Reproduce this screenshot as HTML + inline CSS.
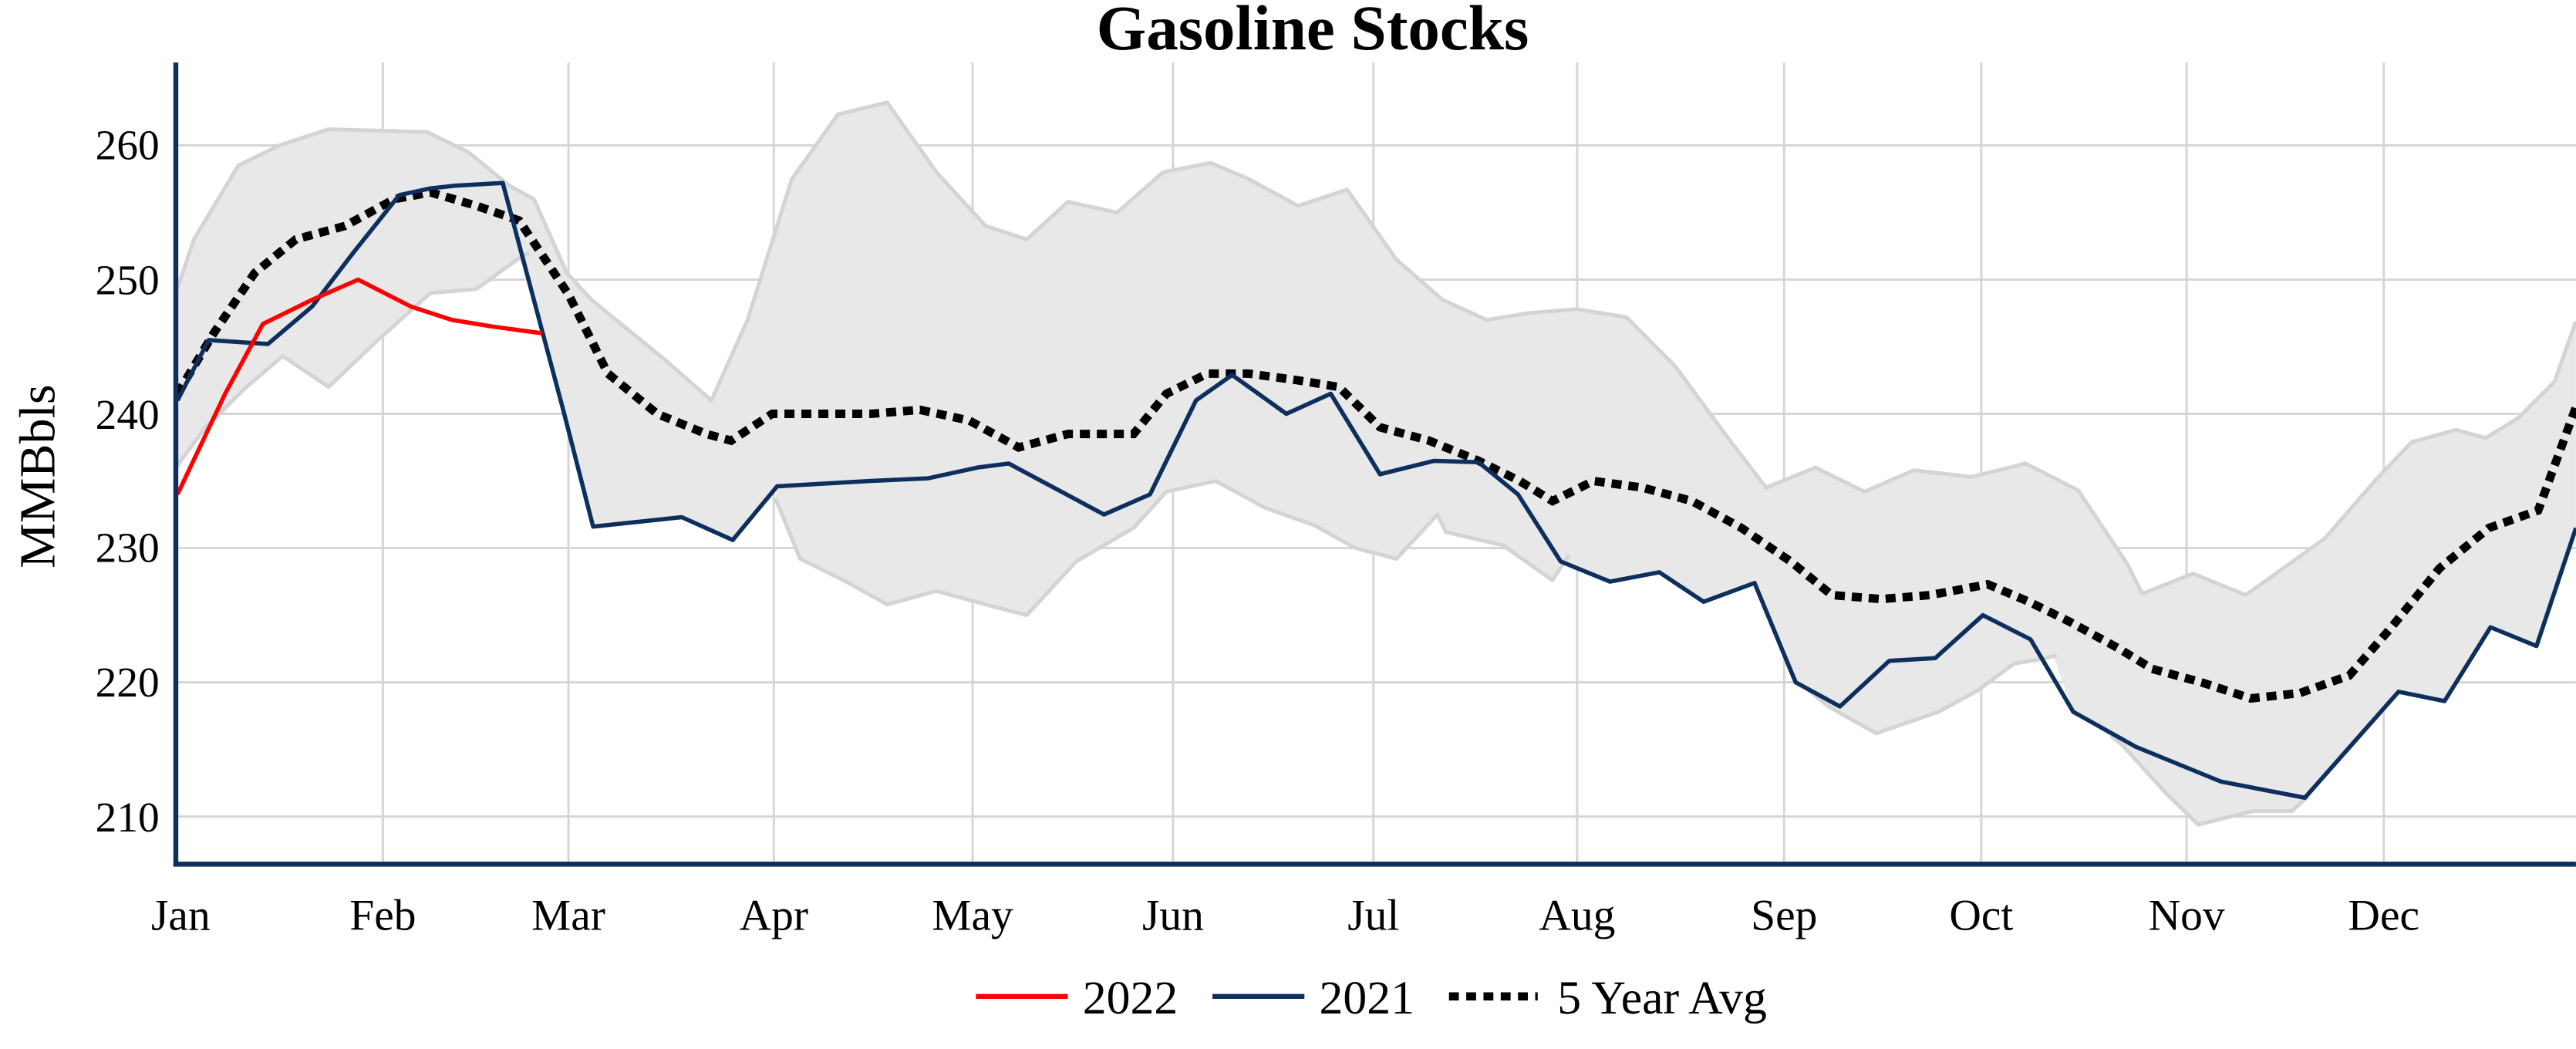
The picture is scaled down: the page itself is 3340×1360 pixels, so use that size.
<!DOCTYPE html>
<html><head><meta charset="utf-8"><style>
html,body{margin:0;padding:0;background:#fff;}
svg{display:block;}
text{font-family:"Liberation Serif",serif;fill:#000;}
</style></head><body>
<svg width="3340" height="1360" viewBox="0 0 1568 638.5" xmlns="http://www.w3.org/2000/svg">
<rect width="1568" height="638.5" fill="#fff"/>
<text x="799" y="30" font-size="39" font-weight="bold" text-anchor="middle">Gasoline Stocks</text>
<g stroke="#d6d6d6" stroke-width="1.4">
<line x1="107" x2="1568" y1="88.5" y2="88.5"/>
<line x1="107" x2="1568" y1="170.2" y2="170.2"/>
<line x1="107" x2="1568" y1="251.9" y2="251.9"/>
<line x1="107" x2="1568" y1="333.6" y2="333.6"/>
<line x1="107" x2="1568" y1="415.3" y2="415.3"/>
<line x1="107" x2="1568" y1="497" y2="497"/>
<line y1="38" y2="526" x1="233" x2="233"/>
<line y1="38" y2="526" x1="346" x2="346"/>
<line y1="38" y2="526" x1="471" x2="471"/>
<line y1="38" y2="526" x1="592" x2="592"/>
<line y1="38" y2="526" x1="714" x2="714"/>
<line y1="38" y2="526" x1="836" x2="836"/>
<line y1="38" y2="526" x1="960" x2="960"/>
<line y1="38" y2="526" x1="1086" x2="1086"/>
<line y1="38" y2="526" x1="1206" x2="1206"/>
<line y1="38" y2="526" x1="1331" x2="1331"/>
<line y1="38" y2="526" x1="1451" x2="1451"/>
</g>
<g transform="translate(0,497) scale(1,-8.17) translate(0,-210)">
<polygon fill="#e8e8e8" stroke="none" points="107,249 118,253 145,258.5 170,260 200,261.2 260,261 285,259.5 310,257 325,256 345,250.5 360,248.5 405,244 433,241 455,247 482,257.5 510,262.3 540,263.2 570,258 600,254 625,253 650,255.8 680,255 708,258 737,258.7 760,257.5 790,255.5 820,256.7 850,251.5 878,248.5 905,247 930,247.5 960,247.8 990,247.2 1020,243.5 1050,238.5 1075,234.5 1105,236 1135,234.2 1165,235.8 1200,235.3 1233,236.3 1265,234.3 1295,228.8 1304,226.6 1335,228.1 1367,226.5 1415,230.7 1447,235.2 1468,237.9 1495,238.8 1513,238.2 1533,239.7 1555,242.4 1568,246.9 1568,231.5 1544,222.7 1516,224.1 1488,218.6 1460,219.3 1403,211.4 1395,210.4 1371,210.4 1338,209.4 1318,211.8 1292,215.3 1262,217.8 1250,221.9 1241,221.7 1226,221.4 1204,219.4 1180,217.8 1142,216.2 1113,218.2 1093,220 1068,227.4 1037,226 1010,228.2 980,227.5 950,229 945,227.6 915,230.2 880,231.2 875,232.5 850,229.2 825,230 800,231.7 770,233 740,235 710,234.2 690,231.5 655,229 625,225 600,225.8 570,226.8 540,225.8 515,227.5 487,229.2 472,233.7 473,234.6 446,230.6 415,232.3 361,231.6 343,240.2 320,250.7 316,251.6 290,249.3 262,249 230,245.5 200,242 172,244.3 150,242 125,239 107,236"/>
<g fill="none" stroke="#d4d4d4" stroke-width="5" stroke-linejoin="round">
<polyline vector-effect="non-scaling-stroke" points="107,249 118,253 145,258.5 170,260 200,261.2 260,261 285,259.5 310,257 325,256 345,250.5 360,248.5 405,244 433,241 455,247 482,257.5 510,262.3 540,263.2 570,258 600,254 625,253 650,255.8 680,255 708,258 737,258.7 760,257.5 790,255.5 820,256.7 850,251.5 878,248.5 905,247 930,247.5 960,247.8 990,247.2 1020,243.5 1050,238.5 1075,234.5 1105,236 1135,234.2 1165,235.8 1200,235.3 1233,236.3 1265,234.3 1295,228.8 1304,226.6 1335,228.1 1367,226.5 1415,230.7 1447,235.2 1468,237.9 1495,238.8 1513,238.2 1533,239.7 1555,242.4 1568,246.9"/>
<polyline vector-effect="non-scaling-stroke" points="107,236 125,239 150,242 172,244.3 200,242 230,245.5 262,249 290,249.3 316,251.6 322,252"/>
<polyline vector-effect="non-scaling-stroke" points="472,233.7 487,229.2 515,227.5 540,225.8 570,226.8 600,225.8 625,225 655,229 690,231.5 710,234.2 740,235 770,233 800,231.7 825,230 850,229.2 875,232.5 880,231.2 915,230.2 945,227.6 955,229.5"/>
<polyline vector-effect="non-scaling-stroke" points="1100,219.5 1113,218.2 1142,216.2 1180,217.8 1204,219.4 1226,221.4 1241,221.7 1252,222"/>
<polyline vector-effect="non-scaling-stroke" points="1285,216 1292,215.3 1318,211.8 1338,209.4 1371,210.4 1395,210.4 1405,211.5"/>
</g>
<polyline fill="none" stroke="#000" stroke-width="11" stroke-dasharray="13,9" vector-effect="non-scaling-stroke" points="108,241.5 130,246 155,250.5 180,253 210,254 240,256 262,256.5 290,255.5 316,254.4 346,248.9 370,243 400,240 430,238.5 445,238 470,240 530,240 560,240.3 590,239.5 620,237.5 650,238.5 690,238.5 710,241.5 735,243 760,243 790,242.5 815,242 840,239 870,238 900,236.5 925,235 945,233.5 970,235 1000,234.5 1030,233.5 1060,231.5 1090,229 1115,226.5 1145,226.2 1175,226.5 1210,227.3 1235,226 1260,224.5 1290,222.5 1310,221 1340,220 1370,218.8 1400,219.2 1430,220.5 1455,224 1485,228.5 1515,231.5 1545,232.8 1568,240.5"/>
<polyline fill="none" stroke="#0d2f5e" stroke-width="5.5" stroke-linejoin="round" vector-effect="non-scaling-stroke" points="108,241 127,245.5 163,245.2 190,248 215,252 243,256.3 262,256.8 277,257 306,257.2 343,240.2 361,231.6 415,232.3 446,230.6 473,234.6 530,235 565,235.2 595,236 614,236.3 672,232.5 700,234 728,241 750,242.9 783,240 810,241.5 840,235.5 873,236.5 900,236.4 924,234 950,229 980,227.5 1010,228.2 1037,226 1068,227.4 1093,220 1120,218.2 1150,221.6 1178,221.8 1207,225 1236,223.2 1262,217.8 1300,215.2 1352,212.6 1403,211.4 1460,219.3 1488,218.6 1516,224.1 1544,222.7 1568,231.5"/>
<polyline fill="none" stroke="#ff0000" stroke-width="5.5" stroke-linejoin="round" vector-effect="non-scaling-stroke" points="108,234 137,241.5 160,246.7 190,248.5 218,250 250,248 275,247 300,246.5 330,246"/>
</g>
<line x1="107" y1="38" x2="107" y2="527" stroke="#0d2f5e" stroke-width="3"/>
<line x1="105.5" y1="526" x2="1568" y2="526" stroke="#0d2f5e" stroke-width="3"/>
<g font-size="26" text-anchor="end">
<text x="97" y="97">260</text>
<text x="97" y="179">250</text>
<text x="97" y="261">240</text>
<text x="97" y="342">230</text>
<text x="97" y="424">220</text>
<text x="97" y="506">210</text>
</g>
<text transform="translate(33,290) rotate(-90)" font-size="31" text-anchor="middle">MMBbls</text>
<g font-size="27" text-anchor="middle">
<text x="110" y="566">Jan</text>
<text x="233" y="566">Feb</text>
<text x="346" y="566">Mar</text>
<text x="471" y="566">Apr</text>
<text x="592" y="566">May</text>
<text x="714" y="566">Jun</text>
<text x="836" y="566">Jul</text>
<text x="960" y="566">Aug</text>
<text x="1086" y="566">Sep</text>
<text x="1206" y="566">Oct</text>
<text x="1331" y="566">Nov</text>
<text x="1451" y="566">Dec</text>
</g>
<line x1="594" y1="606.5" x2="650" y2="606.5" stroke="#ff0000" stroke-width="3"/>
<text x="659" y="617" font-size="29">2022</text>
<line x1="738" y1="606.5" x2="794" y2="606.5" stroke="#0d2f5e" stroke-width="3"/>
<text x="803" y="617" font-size="29">2021</text>
<line x1="882" y1="606.5" x2="936" y2="606.5" stroke="#000" stroke-width="5" stroke-dasharray="6,4.5"/>
<text x="948" y="617" font-size="29">5 Year Avg</text>
</svg>
</body></html>
